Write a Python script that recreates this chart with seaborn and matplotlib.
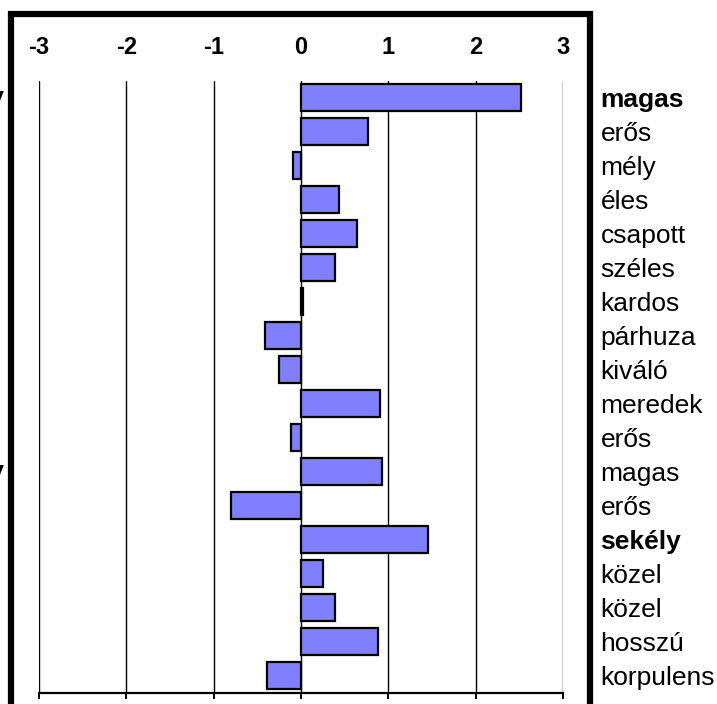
import numpy as np
import pandas as pd
import matplotlib
matplotlib.use('Agg')
import matplotlib.pyplot as plt
import matplotlib.patches as patches
import matplotlib.transforms as mtransforms
import seaborn as sns

# adatok (felülről lefelé)
labels = ['magas', 'erős', 'mély', 'éles', 'csapott', 'széles', 'kardos', 'párhuza', 'kiváló',
          'meredek', 'erős', 'magas', 'erős', 'sekély', 'közel', 'közel', 'hosszú', 'korpulens']
values = [2.52, 0.77, -0.09, 0.43, 0.64, 0.39, 0.02, -0.41, -0.25,
          0.91, -0.11, 0.93, -0.80, 1.45, 0.25, 0.39, 0.88, -0.39]
bold_rows = [0, 13]
left_labels = {0: 'alacsony', 11: 'alacsony'}
x_ticks = [-3, -2, -1, 0, 1, 2, 3]

sns.set_style('white')
plt.rcParams['font.family'] = ['Liberation Sans', 'DejaVu Sans']
plt.rcParams['text.color'] = 'black'
plt.rcParams['xtick.color'] = 'black'
plt.rcParams['ytick.color'] = 'black'

W, H = 717, 704
fig = plt.figure(figsize=(W / 100, H / 100), dpi=100)
ax = fig.add_axes([39 / W, 1 - 692.5 / H, (563 - 39) / W, (692.5 - 80.5) / H])

df = pd.DataFrame({'row': [str(i) for i in range(len(values))], 'value': values})
sns.barplot(data=df, x='value', y='row', orient='h', color='#8080FF', saturation=1,
            edgecolor='black', linewidth=1.6, width=0.82, ax=ax)

ax.set_xlim(-3, 3)
ax.set_xticks(x_ticks)
ax.set_xticklabels([str(t) for t in x_ticks], fontsize=17, fontweight='bold', color='black')
ax.set_xlabel('')
ax.set_ylabel('')

# rács
for t in x_ticks:
    ax.axvline(t, color='black', lw=1.0, zorder=0)

for s in ['top', 'left', 'right']:
    ax.spines[s].set_visible(False)
ax.spines['bottom'].set_color('black')
ax.spines['bottom'].set_linewidth(1.6)

ax.tick_params(axis='x', top=False, labeltop=True, bottom=True, labelbottom=False,
               direction='out', length=4.5, width=1.4, color='black', pad=11)

# jobb oldali címkék
ax.yaxis.tick_right()
ax.set_yticks(range(len(labels)))
ax.set_yticklabels(labels, fontsize=19, color='black')
ax.tick_params(axis='y', length=0, pad=27)
for i in bold_rows:
    ax.get_yticklabels()[i].set_fontweight('bold')

# bal oldali, levágott címkék
trans = mtransforms.blended_transform_factory(fig.transFigure, ax.transData)
for i, txt in left_labels.items():
    ax.text(4 / W, i, txt, transform=trans, ha='right', va='center',
            fontsize=19, fontweight='bold', clip_on=False)

# keret
fig.patches.append(patches.Rectangle((11 / W, -20 / H), (590 - 11) / W, (H - 14 + 20) / H,
                                     transform=fig.transFigure, fill=False,
                                     edgecolor='black', linewidth=4.5))

fig.savefig('out.png', dpi=100)
